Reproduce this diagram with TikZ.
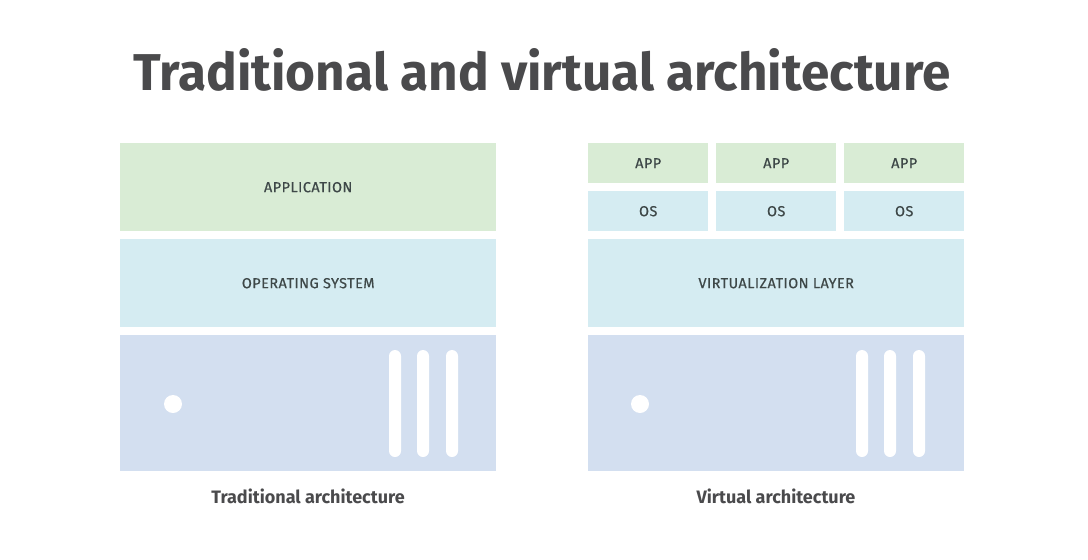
\documentclass[tikz,border=0pt]{standalone}
\usepackage{fontspec}
\setmainfont{Fira Sans}
\definecolor{appgreen}{HTML}{D9ECD5}
\definecolor{osblue}{HTML}{D5ECF2}
\definecolor{hwblue}{HTML}{D3DFF0}
\definecolor{txtgrey}{HTML}{3E4848}
\definecolor{titlegrey}{HTML}{4A4A4C}
\tikzset{
  layer/.style={fill=#1, inner sep=0pt, anchor=north west, font=\fontsize{14.5}{16}\selectfont\addfontfeatures{FakeBold=0.5,LetterSpace=3}, text=txtgrey},
  slot/.style={fill=white, rounded corners=6pt, minimum width=12pt, minimum height=107pt, inner sep=0pt},
  led/.style={fill=white, circle, minimum size=18pt, inner sep=0pt},
  caption/.style={font=\fontsize{18}{20}\selectfont\bfseries, text=titlegrey}
}
\begin{document}
\begin{tikzpicture}[x=1pt,y=-1pt]
\useasboundingbox (0,0) rectangle (1088,560);
\node[text=titlegrey] (title) at (542,70) {\resizebox{817pt}{42pt}{\bfseries Traditional and virtual architecture}};

% traditional
\node[layer=appgreen, minimum width=376pt, minimum height=88pt] (app) at (120,143) {APPLICATION};
\node[layer=osblue, minimum width=376pt, minimum height=88pt] (os) at (120,239) {OPERATING SYSTEM};
\node[layer=hwblue, minimum width=376pt, minimum height=136pt] (hw1) at (120,335) {};
\node[led] (led1) at (173,404) {};
\node[slot] (s11) at (395,403.5) {};
\node[slot] (s12) at (423,403.5) {};
\node[slot] (s13) at (452,403.5) {};
\node[caption] (cap1) at (308,496) {Traditional architecture};

% virtual
\node[layer=appgreen, minimum width=120pt, minimum height=40pt] (app1) at (588,143) {APP};
\node[layer=appgreen, minimum width=120pt, minimum height=40pt] (app2) at (716,143) {APP};
\node[layer=appgreen, minimum width=120pt, minimum height=40pt] (app3) at (844,143) {APP};
\node[layer=osblue, minimum width=120pt, minimum height=40pt] (os1) at (588,191) {OS};
\node[layer=osblue, minimum width=120pt, minimum height=40pt] (os2) at (716,191) {OS};
\node[layer=osblue, minimum width=120pt, minimum height=40pt] (os3) at (844,191) {OS};
\node[layer=osblue, minimum width=376pt, minimum height=88pt] (virt) at (588,239) {VIRTUALIZATION LAYER};
\node[layer=hwblue, minimum width=376pt, minimum height=136pt] (hw2) at (588,335) {};
\node[led] (led2) at (640,404) {};
\node[slot] (s21) at (862,403.5) {};
\node[slot] (s22) at (890,403.5) {};
\node[slot] (s23) at (919,403.5) {};
\node[caption] (cap2) at (776,496) {Virtual architecture};
\end{tikzpicture}
\end{document}
